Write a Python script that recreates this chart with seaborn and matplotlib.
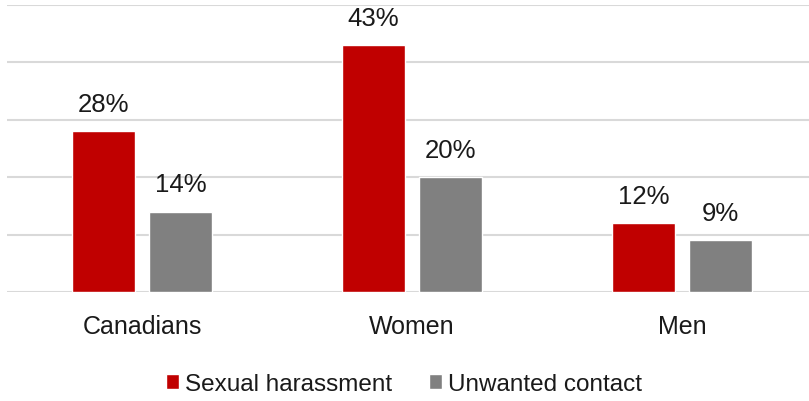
import pandas as pd
import matplotlib.pyplot as plt
import seaborn as sns
import numpy as np

groups = ['Canadians', 'Women', 'Men']
sexual_harassment = [28, 43, 12]
unwanted_contact = [14, 20, 9]
series_names = ['Sexual harassment', 'Unwanted contact']

df = pd.DataFrame({
    'group': groups * 2,
    'type': [series_names[0]] * 3 + [series_names[1]] * 3,
    'pct': sexual_harassment + unwanted_contact,
})

sns.set_style('white')
plt.rcParams['font.family'] = ['Liberation Sans', 'DejaVu Sans']

fig = plt.figure(figsize=(8.09, 4.02), dpi=100)
ax = fig.add_axes([7 / 809, 1 - 293 / 402, 810 / 809, 287 / 402])

sns.barplot(data=df, x='group', y='pct', hue='type', order=groups,
            hue_order=series_names, palette=['#C00000', '#808080'],
            width=0.57, gap=0.19, saturation=1, ax=ax, legend=True)

for c in ax.containers:
    ax.bar_label(c, labels=[f'{v:.0f}%' for v in c.datavalues],
                 padding=11, fontsize=18.5, color='#1a1a1a')

ax.set_ylim(0, 50)
ax.set_xlim(-0.5, 2.5)
ax.set_yticks(np.arange(0, 51, 10))
ax.set_yticklabels([])
ax.yaxis.grid(True, color='#D9D9D9', linewidth=1.5)
ax.set_axisbelow(True)
for s in ax.spines.values():
    s.set_visible(False)
ax.tick_params(axis='x', length=0, pad=16, labelsize=18, labelcolor='#1a1a1a')
ax.tick_params(axis='y', length=0)
ax.set_xlabel('')
ax.set_ylabel('')

ax.legend(loc='center', bbox_to_anchor=(404 / 809, 1 - 385 / 402),
          bbox_transform=fig.transFigure, ncol=2, frameon=False,
          fontsize=17.5, handlelength=0.55, handleheight=0.55,
          handletextpad=0.25, columnspacing=1.5, labelcolor='#1a1a1a')

fig.savefig('out.png', dpi=100)
